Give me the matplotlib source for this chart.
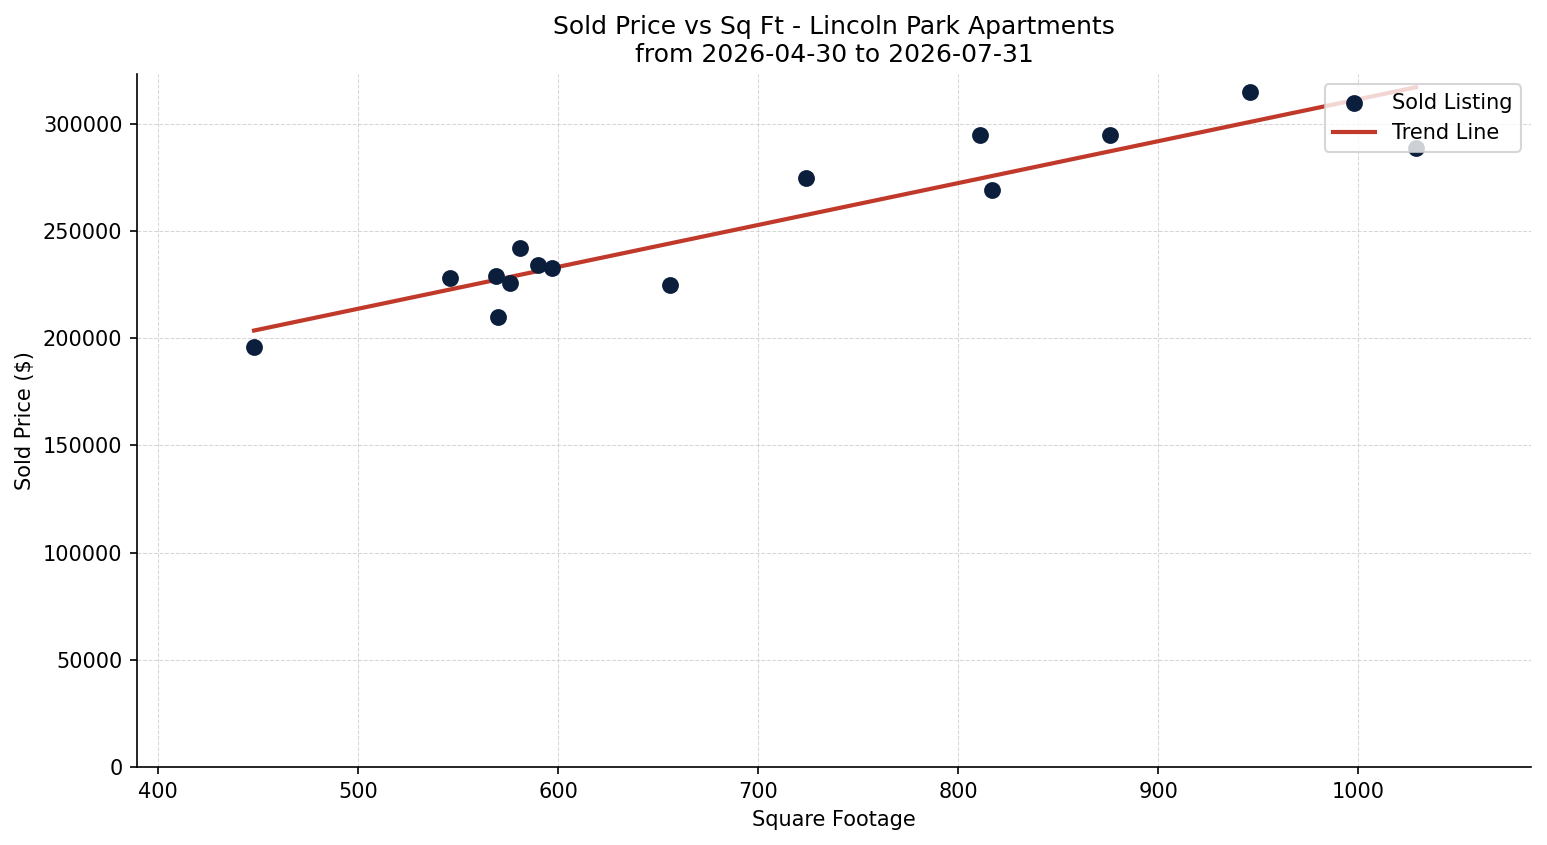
import matplotlib.pyplot as plt
import numpy as np

# Sold listings
sqft = [448, 546, 569, 570, 576, 581, 590, 597, 656, 724, 811, 817, 876, 946, 1029]
price = [196000, 228000, 229000, 210000, 226000, 242000, 234000, 233000,
         225000, 275000, 295000, 269000, 295000, 315000, 289000]

title = 'Sold Price vs Sq Ft - Lincoln Park Apartments\nfrom 2026-04-30 to 2026-07-31'

x = np.array(sqft)
y = np.array(price)
slope, intercept = np.polyfit(x, y, 1)
x_line = np.array([x.min(), x.max()])
y_line = slope * x_line + intercept

fig, ax = plt.subplots(figsize=(1547 / 150, 845 / 150), dpi=150)
fig.subplots_adjust(left=0.0886, right=0.9897, top=0.9124, bottom=0.0923)

ax.scatter(x, y, s=50, color='#0b1f3d', label='Sold Listing', zorder=3)
ax.plot(x_line, y_line, color='#c0392b', linewidth=2, label='Trend Line', zorder=2)

ax.set_title(title, fontsize=12)
ax.set_xlabel('Square Footage')
ax.set_ylabel('Sold Price ($)')
ax.set_xlim(389.5, 1086.5)
ax.set_ylim(0, 323300)
ax.grid(True, linestyle='--', linewidth=0.5, color='#cccccc', alpha=0.8)
ax.spines['top'].set_visible(False)
ax.spines['right'].set_visible(False)
ax.legend(loc='upper right')

plt.savefig('out.png', dpi=150)
plt.close()
